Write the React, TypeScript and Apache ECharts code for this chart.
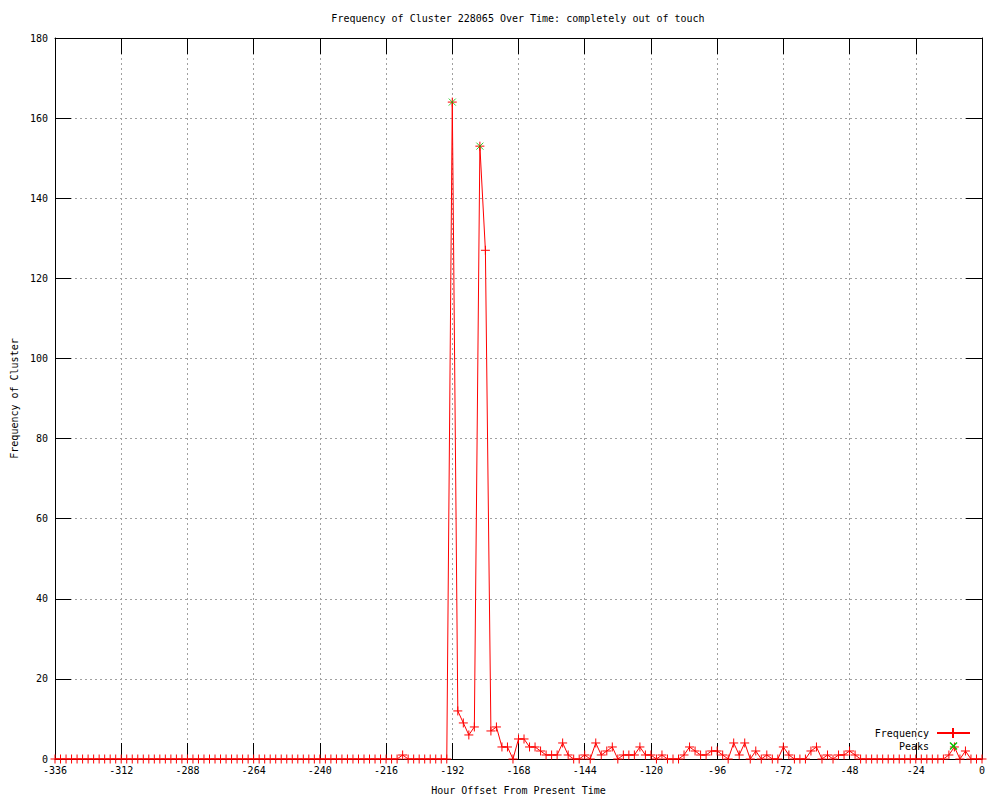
import React, { useEffect, useRef } from "react";
import * as echarts from "echarts";

// Hour offsets (every 2 hours from -336 to 0)
const HOURS: number[] = [];
for (let h = -336; h <= 0; h += 2) HOURS.push(h);

// Frequency values, one per hour offset above
const FREQ_EARLY: number[] = [
  // -336 .. -212 (63 values)
  0, 0, 0, 0, 0, 0, 0, 0, 0, 0, 0, 0, 0, 0, 0, 0, 0, 0, 0, 0,
  0, 0, 0, 0, 0, 0, 0, 0, 0, 0, 0, 0, 0, 0, 0, 0, 0, 0, 0, 0,
  0, 0, 0, 0, 0, 0, 0, 0, 0, 0, 0, 0, 0, 0, 0, 0, 0, 0, 0, 0,
  0, 0, 0,
];
const FREQ_MID: number[] = [
  // -210 .. -100
  1, 0, 0, 0, 0, 0, 0, 0, 0, 164, 12, 9, 6, 8, 153, 127, 7, 8, 3, 3,
  0, 5, 5, 3, 3, 2, 1, 1, 1, 4, 1, 0, 0, 1, 0, 4, 1, 2, 3, 0,
  1, 1, 1, 3, 1, 1, 0, 1, 0, 0, 0, 1, 3, 2, 1, 1,
];
const FREQ_LATE: number[] = [
  // -98 .. 0
  2, 2, 1, 0, 4, 1, 4, 0, 2, 0, 1, 0, 0, 3, 1, 0, 0, 0, 2, 3,
  0, 1, 0, 1, 1, 2, 1, 0, 0, 0, 0, 0, 0, 0, 0, 0, 0, 0, 0, 0,
  0, 0, 0, 1, 3, 0, 2, 0, 0, 0,
];
const FREQ: number[] = [...FREQ_EARLY, ...FREQ_MID, ...FREQ_LATE];

const PEAK_HOURS = [-192, -182];
const PEAK_VALUES = [164, 153];

const TITLE = "Frequency of Cluster 228065 Over Time: completely out of touch";
const X_NAME = "Hour Offset From Present Time";
const Y_NAME = "Frequency of Cluster";

const FONT = "'DejaVu Sans Mono', 'Liberation Mono', monospace";
const PLUS = "path://M0,5L10,5M5,0L5,10";
const CROSS = "path://M0,0L10,10M10,0L0,10";

export default function App() {
  const ref = useRef<HTMLDivElement>(null);
  useEffect(() => {
    if (!ref.current) return;
    const chart = echarts.init(ref.current, null, { renderer: "svg" });
    const freqData = HOURS.map((h, i) => [h, FREQ[i] ?? 0]);
    const peakData = PEAK_HOURS.map((h, i) => [h, PEAK_VALUES[i]]);
    const tickStyle = { show: true, inside: true, length: 16, lineStyle: { color: "#000", width: 1 } };
    const axisLine = { show: true, onZero: false, lineStyle: { color: "#000", width: 1 } };
    const split = { show: true, lineStyle: { color: "#a0a0a0", type: [2, 3] as any, width: 1 } };
    const label = { color: "#000", fontFamily: FONT, fontSize: 10 };
    chart.setOption({
      animation: false,
      backgroundColor: "#fff",
      grid: { left: 55, top: 38, width: 927, height: 723, show: false },
      xAxis: [
        {
          type: "value", min: -336, max: 0, interval: 24, position: "bottom",
          axisLine, axisTick: tickStyle, splitLine: split,
          axisLabel: { ...label, margin: 6 },
          name: X_NAME, nameLocation: "middle", nameGap: 26,
          nameTextStyle: { ...label },
        },
        {
          type: "value", min: -336, max: 0, interval: 24, position: "top",
          axisLine, axisTick: tickStyle, splitLine: { show: false },
          axisLabel: { show: false },
        },
      ],
      yAxis: [
        {
          type: "value", min: 0, max: 180, interval: 20, position: "left",
          axisLine, axisTick: tickStyle, splitLine: split,
          axisLabel: { ...label, margin: 7 },
          name: Y_NAME, nameLocation: "middle", nameGap: 35,
          nameTextStyle: { ...label },
        },
        {
          type: "value", min: 0, max: 180, interval: 20, position: "right",
          axisLine, axisTick: tickStyle, splitLine: { show: false },
          axisLabel: { show: false },
        },
      ],
      series: [
        {
          type: "line", name: "Frequency", data: freqData,
          xAxisIndex: 0, yAxisIndex: 0,
          symbol: PLUS, symbolSize: 9, showSymbol: true,
          lineStyle: { color: "#ff0000", width: 1 },
          itemStyle: { color: "#ff0000", borderColor: "#ff0000", borderWidth: 1 },
          z: 5,
        },
        {
          type: "scatter", name: "Peaks", data: peakData,
          xAxisIndex: 0, yAxisIndex: 0,
          symbol: CROSS, symbolSize: 7,
          itemStyle: { color: "#00c000", borderColor: "#00c000", borderWidth: 1 },
          z: 6,
        },
      ],
      graphic: [
        {
          type: "text", x: 518, y: 18,
          style: { text: TITLE, fontFamily: FONT, fontSize: 10, fill: "#000", align: "center", verticalAlign: "middle" },
        },
        {
          type: "text", x: 929, y: 733,
          style: { text: "Frequency", fontFamily: FONT, fontSize: 10, fill: "#000", align: "right", verticalAlign: "middle" },
        },
        {
          type: "text", x: 929, y: 746,
          style: { text: "Peaks", fontFamily: FONT, fontSize: 10, fill: "#000", align: "right", verticalAlign: "middle" },
        },
        { type: "rect", z: 10, shape: { x: 937, y: 732, width: 33, height: 2 }, style: { fill: "#ff0000" } },
        { type: "rect", z: 10, shape: { x: 952, y: 728, width: 2, height: 10 }, style: { fill: "#ff0000" } },
        { type: "polyline", z: 10, shape: { points: [[950, 742.5], [957, 749.5]] }, style: { stroke: "#00c000", lineWidth: 1.5, fill: null } },
        { type: "polyline", z: 10, shape: { points: [[957, 742.5], [950, 749.5]] }, style: { stroke: "#00c000", lineWidth: 1.5, fill: null } },
      ],
    });
    return () => chart.dispose();
  }, []);
  return (
    <div
      ref={ref}
      style={{ position: "absolute", left: 0, top: 0, width: 1000, height: 800, background: "#fff" }}
    />
  );
}
